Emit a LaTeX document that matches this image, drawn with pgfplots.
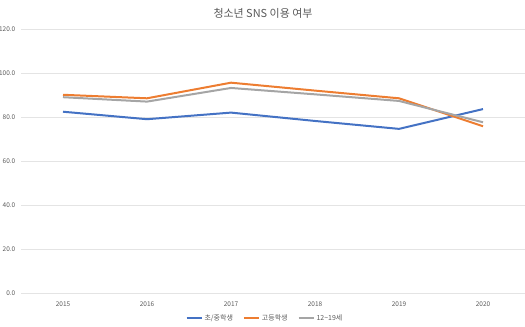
\documentclass[border=0pt]{standalone}
\usepackage{fontspec}
\setmainfont{Noto Sans CJK KR}
\usepackage{pgfplots}
\pgfplotsset{compat=1.18}
\definecolor{cblue}{HTML}{4472C4}
\definecolor{corange}{HTML}{ED7D31}
\definecolor{cgray}{HTML}{A5A5A5}
\definecolor{gridgray}{HTML}{E4E4E4}
\definecolor{labelgray}{HTML}{595959}
\begin{document}
\begin{tikzpicture}[x=1bp,y=1bp]
\useasboundingbox (0,0) rectangle (525,326);
\node[font=\fontsize{11}{13}\selectfont, text=labelgray] at (263,313) {청소년 SNS 이용 여부};
\begin{axis}[
  at={(21bp,33bp)}, anchor=south west,
  scale only axis, width=504bp, height=264bp,
  xmin=-0.5, xmax=5.5, ymin=0, ymax=120,
  xtick={0,1,2,3,4,5},
  xticklabels={2015,2016,2017,2018,2019,2020},
  ytick={0,20,40,60,80,100,120},
  ymajorgrids,
  grid style={draw=gridgray, line width=0.8bp},
  axis line style={draw=none},
  major tick length=0pt,
  /pgf/number format/assume math mode=true,
  yticklabel={\pgfmathprintnumber[fixed,fixed zerofill,precision=1]{\tick}},
  ticklabel style={font=\fontsize{6.5}{8}\selectfont, text=labelgray},
  yticklabel style={inner sep=0pt, xshift=-5.5bp},
  xticklabel style={inner sep=0pt, yshift=-9bp},
  legend style={at={(0.484,-0.095)}, anchor=center, draw=none, fill=none,
    font=\fontsize{7}{8}\selectfont, text=labelgray, legend columns=3,
    /tikz/every even column/.append style={column sep=8bp}},
  legend image code/.code={\draw[#1] (0bp,0bp) -- (15bp,0bp);},
  every axis plot/.append style={line width=2bp, line join=round},
]
\addplot[cblue] coordinates {(0,82.4) (1,79.0) (2,82.0) (3,78.2) (4,74.6) (5,83.6)};
\addlegendentry{초/중학생}
\addplot[corange] coordinates {(0,90.1) (1,88.5) (2,95.6) (3,92.0) (4,88.5) (5,75.8)};
\addlegendentry{고등학생}
\addplot[cgray] coordinates {(0,89.0) (1,87.0) (2,93.2) (3,90.3) (4,87.3) (5,77.6)};
\addlegendentry{12\textasciitilde19세}
\end{axis}
\end{tikzpicture}
\end{document}
